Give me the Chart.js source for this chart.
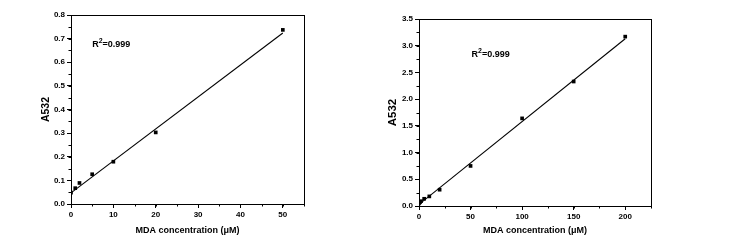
<!DOCTYPE html>
<html lang="en">
<head>
    <meta charset="UTF-8">
    <title>MDA standard curves</title>
    <script src="https://cdn.jsdelivr.net/npm/chart.js"></script>
    <style>
        body {
            margin: 0;
            background: #fff;
            width: 729px;
            height: 242px;
            position: relative;
            overflow: hidden;
        }
        .box {
            position: absolute;
            top: 0;
        }
    </style>
</head>
<body>
    <div class="box" style="left:0px"><canvas id="leftChart" width="330" height="242"></canvas></div>
    <div class="box" style="left:370px"><canvas id="rightChart" width="359" height="242"></canvas></div>

    <script>
        // left panel: 0-50 uM
        const leftConc = [0, 1, 2, 5, 10, 20, 50];
        const leftAbs = [0.048, 0.067, 0.089, 0.126, 0.179, 0.303, 0.737];
        const leftFitX = [0, 50];
        const leftFitY = [0.047, 0.724];
        const leftXTicks = [0, 10, 20, 30, 40, 50];
        const leftYTicks = [0.0, 0.1, 0.2, 0.3, 0.4, 0.5, 0.6, 0.7, 0.8];

        // right panel: 0-200 uM
        const rightConc = [0, 1, 2, 5, 10, 20, 50, 100, 150, 200];
        const rightAbs = [0.05, 0.07, 0.09, 0.135, 0.18, 0.305, 0.75, 1.64, 2.33, 3.17];
        const rightFitX = [0, 200];
        const rightFitY = [0.03, 3.13];
        const rightXTicks = [0, 50, 100, 150, 200];
        const rightYTicks = [0.0, 0.5, 1.0, 1.5, 2.0, 2.5, 3.0, 3.5];

        const r2Text = '0.999';
        const xTitle = 'MDA concentration (\u03bcM)';
        const yTitle = 'A532';

        const FONT = 'Arial, "Liberation Sans", sans-serif';

        // box around the plot area + minor ticks + R2 label
        const framePlugin = {
            id: 'frame',
            afterDraw(chart, args, opts) {
                const ctx = chart.ctx;
                const a = chart.chartArea;
                const xs = chart.scales.x;
                const ys = chart.scales.y;
                ctx.save();
                ctx.strokeStyle = '#000';
                ctx.lineWidth = 1;
                ctx.strokeRect(Math.round(a.left) + 0.5, Math.round(a.top) + 0.5,
                    Math.round(a.right - a.left), Math.round(a.bottom - a.top));

                // minor ticks
                ctx.beginPath();
                for (let v = xs.min; v <= xs.max + 1e-9; v += opts.xMinor) {
                    const px = Math.round(xs.getPixelForValue(v)) + 0.5;
                    ctx.moveTo(px, a.bottom);
                    ctx.lineTo(px, a.bottom + 2.5);
                }
                for (let v = ys.min; v <= ys.max + 1e-9; v += opts.yMinor) {
                    const py = Math.round(ys.getPixelForValue(v)) + 0.5;
                    ctx.moveTo(a.left, py);
                    ctx.lineTo(a.left - 2.5, py);
                }
                ctx.stroke();

                // R^2 label
                const tx = xs.getPixelForValue(opts.labelAt[0]);
                const ty = ys.getPixelForValue(opts.labelAt[1]);
                ctx.fillStyle = '#000';
                ctx.textBaseline = 'alphabetic';
                ctx.font = 'bold 9px ' + FONT;
                ctx.fillText('R', tx, ty);
                let w = ctx.measureText('R').width;
                ctx.font = 'bold 7px ' + FONT;
                ctx.fillText('2', tx + w, ty - 4);
                w += ctx.measureText('2').width;
                ctx.font = 'bold 9px ' + FONT;
                ctx.fillText('=' + r2Text, tx + w, ty);
                ctx.restore();
            }
        };

        function makeChart(id, conc, abs, fitX, fitY, xTicks, yTicks, cfg) {
            const ctx = document.getElementById(id).getContext('2d');
            return new Chart(ctx, {
                type: 'scatter',
                data: {
                    datasets: [{
                        data: conc.map((c, i) => ({ x: c, y: abs[i] })),
                        pointStyle: 'rect',
                        pointRadius: 2.6,
                        backgroundColor: '#000',
                        borderColor: '#000',
                        borderWidth: 0,
                    }, {
                        type: 'line',
                        data: fitX.map((c, i) => ({ x: c, y: fitY[i] })),
                        borderColor: '#000',
                        borderWidth: 1.1,
                        pointRadius: 0,
                        fill: false,
                    }]
                },
                options: {
                    responsive: false,
                    animation: false,
                    layout: { padding: cfg.padding },
                    plugins: {
                        legend: { display: false },
                        tooltip: { enabled: false },
                        frame: { xMinor: cfg.xMinor, yMinor: cfg.yMinor, labelAt: cfg.labelAt },
                    },
                    scales: {
                        x: {
                            type: 'linear',
                            min: 0,
                            max: cfg.xMax,
                            afterBuildTicks: s => { s.ticks = xTicks.map(v => ({ value: v })); },
                            afterFit: s => { s.height = cfg.xHeight; },
                            grid: { drawOnChartArea: false, tickLength: 4, color: '#000' },
                            border: { display: false },
                            ticks: {
                                color: '#000',
                                padding: 2,
                                maxRotation: 0,
                                font: { family: FONT, size: 8, weight: 'bold' },
                                callback: v => String(v),
                            },
                            title: {
                                display: true,
                                text: xTitle,
                                color: '#000',
                                padding: 0,
                                font: { family: FONT, size: 9, weight: 'bold' },
                            },
                        },
                        y: {
                            type: 'linear',
                            min: 0,
                            max: cfg.yMax,
                            afterBuildTicks: s => { s.ticks = yTicks.map(v => ({ value: v })); },
                            afterFit: s => { s.width = cfg.yWidth; },
                            grid: { drawOnChartArea: false, tickLength: 4, color: '#000' },
                            border: { display: false },
                            ticks: {
                                color: '#000',
                                padding: 2,
                                font: { family: FONT, size: 8, weight: 'bold' },
                                callback: v => v.toFixed(1),
                            },
                            title: {
                                display: true,
                                text: yTitle,
                                color: '#000',
                                padding: 0,
                                font: { family: FONT, size: cfg.yTitleSize, weight: 'bold' },
                            },
                        },
                    },
                },
                plugins: [framePlugin],
            });
        }

        makeChart('leftChart', leftConc, leftAbs, leftFitX, leftFitY, leftXTicks, leftYTicks, {
            padding: { left: 40, top: 15, right: 26, bottom: 6 },
            yWidth: 31,
            xHeight: 32,
            xMax: 55,
            yMax: 0.8,
            xMinor: 5,
            yMinor: 0.05,
            yTitleSize: 10.5,
            labelAt: [5, 0.665],
        });

        makeChart('rightChart', rightConc, rightAbs, rightFitX, rightFitY, rightXTicks, rightYTicks, {
            padding: { left: 16, top: 19, right: 78, bottom: 6 },
            yWidth: 33,
            xHeight: 30,
            xMax: 225,
            yMax: 3.5,
            xMinor: 25,
            yMinor: 0.25,
            yTitleSize: 11.5,
            labelAt: [51, 2.78],
        });
    </script>
</body>
</html>
